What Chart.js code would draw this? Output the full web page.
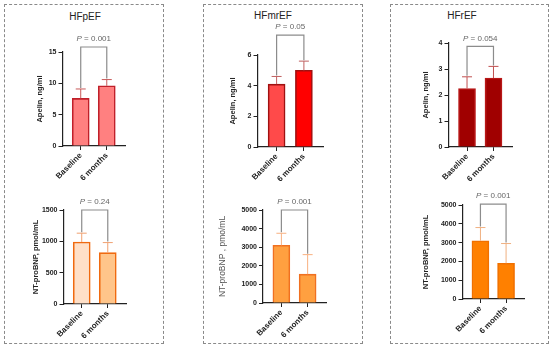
<!DOCTYPE html>
<html>
<head>
<meta charset="utf-8">
<script src="https://cdn.jsdelivr.net/npm/chart.js@4.4.1/dist/chart.umd.min.js"></script>
<style>
  body { margin: 0; background: #fff; width: 550px; height: 348px; position: relative; overflow: hidden;
         font-family: "Liberation Sans", Arial, sans-serif; }
  .box { position: absolute; border: 1px dashed #8a8a8a; box-sizing: border-box; }
  .ttl { position: absolute; font-size: 10px; color: #222; transform: translate(-50%, -50%); white-space: nowrap; }
  canvas { position: absolute; }
</style>
</head>
<body>
<div class="box" style="left:4px;top:4px;width:160px;height:340px"></div>
<div class="box" style="left:203px;top:4px;width:160px;height:340px"></div>
<div class="box" style="left:390px;top:4px;width:159px;height:340px"></div>
<div class="ttl" id="t0" style="left:85px;top:16px"></div>
<div class="ttl" id="t1" style="left:273px;top:15px"></div>
<div class="ttl" id="t2" style="left:462px;top:15px"></div>
<canvas id="c0"></canvas><canvas id="c1"></canvas><canvas id="c2"></canvas>
<canvas id="c3"></canvas><canvas id="c4"></canvas><canvas id="c5"></canvas>
<script>
const groups = ["Baseline", "6 months"];
const cohorts = ["HFpEF", "HFmrEF", "HFrEF"];

const apelinMean = [[7.6, 9.6], [4.1, 5.0], [2.25, 2.65]];
const apelinErr = [[1.5, 1.0], [0.5, 0.6], [0.45, 0.45]];
const apelinP = ["0.001", "0.05", "0.054"];
const apelinMax = [15, 6, 4];
const apelinStep = [5, 2, 1];
const apelinBracket = [15.8, 7.3, 3.87];

const bnpMean = [[990, 820], [3100, 1550], [3100, 1900]];
const bnpErr = [[140, 160], [650, 1050], [700, 1050]];
const bnpP = ["0.24", "0.001", "0.001"];
const bnpMax = [1500, 5000, 5000];
const bnpStep = [500, 1000, 1000];
const bnpBracket = [1500, 5000, 5050];

const FAM = '"Liberation Sans", Arial, sans-serif';
Chart.defaults.font.family = FAM;

cohorts.forEach((c, i) => { document.getElementById("t" + i).textContent = c; });

// error bars, significance bracket and P label
const marks = {
  id: "marks",
  afterDatasetsDraw(chart, args, o) {
    const { ctx, scales: { x, y } } = chart;
    ctx.save();
    ctx.strokeStyle = o.errColor;
    ctx.lineWidth = 1;
    o.mean.forEach((m, i) => {
      const px = x.getPixelForValue(i);
      const y0 = y.getPixelForValue(m);
      const y1 = y.getPixelForValue(m + o.err[i]);
      ctx.beginPath();
      ctx.moveTo(px, y0); ctx.lineTo(px, y1);
      ctx.moveTo(px - 5, y1); ctx.lineTo(px + 5, y1);
      ctx.stroke();
    });
    const xa = x.getPixelForValue(0), xb = x.getPixelForValue(1);
    const yb = y.getPixelForValue(o.bracket);
    ctx.strokeStyle = "#8c8c8c";
    ctx.lineWidth = 1.2;
    ctx.beginPath();
    ctx.moveTo(xa, y.getPixelForValue(o.mean[0] + o.err[0]) - 1);
    ctx.lineTo(xa, yb); ctx.lineTo(xb, yb);
    ctx.lineTo(xb, y.getPixelForValue(o.mean[1] + o.err[1]) - 1);
    ctx.stroke();

    const fi = "italic 8px " + FAM, fn = "8px " + FAM;
    const rest = " = " + o.p;
    ctx.font = fi; const w1 = ctx.measureText("P").width;
    ctx.font = fn; const w2 = ctx.measureText(rest).width;
    let tx = (xa + xb) / 2 - (w1 + w2) / 2;
    const ty = yb - 8;
    ctx.fillStyle = "#666";
    ctx.textBaseline = "middle";
    ctx.textAlign = "left";
    ctx.font = fi; ctx.fillText("P", tx, ty);
    ctx.font = fn; ctx.fillText(rest, tx + w1, ty);
    ctx.restore();
  }
};

// chart area boxes [left, right, top, bottom] in page pixels
const panels = [
  { area: [62, 125, 52, 146], yw: 27.5, padT: 36, label: "Apelin, ng/ml", bold: true,
    fill: ["#ff8080", "#ff8080"], border: "#c0202a", err: "#c85a5a" },
  { area: [257, 323, 55, 147], yw: 29.5, padT: 36, label: "Apelin, ng/ml", bold: true,
    fill: ["#ff4a4a", "#ff0000"], border: "#a01010", err: "#c06060" },
  { area: [448, 512, 43, 147], yw: 27.5, padT: 20, label: "Apelin, ng/ml", bold: true,
    fill: ["#a00000", "#a00000"], border: "#b81818", err: "#c05050" },
  { area: [63, 126, 210, 304], yw: 32.5, padT: 24, label: "NT-proBNP, pmol/mL", bold: true,
    fill: ["#ffe0c8", "#ffc58a"], border: "#f06a10", err: "#f0a070" },
  { area: [263, 326, 210, 303], yw: 45, padT: 24, label: "NT-proBNP , pmo/mL", bold: false,
    fill: ["#ffa040", "#ffa040"], border: "#f07020", err: "#f8b080" },
  { area: [462, 524, 205, 299], yw: 41.5, padT: 24, label: "NT-proBNP, pmol/mL", bold: true,
    fill: ["#ff8000", "#ff8000"], border: "#f07000", err: "#f0b080" }
];

const XH = 38, PADR = 4;

panels.forEach((pn, k) => {
  const j = k % 3;
  const apelin = k < 3;
  const mean = apelin ? apelinMean[j] : bnpMean[j];
  const err = apelin ? apelinErr[j] : bnpErr[j];
  const [l, r, t, b] = pn.area;
  const cv = document.getElementById("c" + k);
  const left = l - pn.yw, top = t - pn.padT;
  cv.width = r - left + PADR;
  cv.height = b + XH - top;
  cv.style.left = left + "px";
  cv.style.top = top + "px";

  new Chart(cv, {
    type: "bar",
    data: {
      datasets: [{
        data: mean.map((v, i) => ({ x: i, y: v })),
        backgroundColor: pn.fill,
        borderColor: pn.border,
        borderWidth: 1.6,
        barThickness: 17
      }]
    },
    options: {
      responsive: false,
      animation: false,
      layout: { padding: { left: 0, right: PADR, top: pn.padT, bottom: 0 } },
      scales: {
        x: {
          type: "linear", min: -0.7, max: 1.7, offset: false,
          afterBuildTicks: s => { s.ticks = [{ value: 0 }, { value: 1 }]; },
          afterFit: s => { s.height = XH; },
          grid: { offset: false, drawOnChartArea: false, tickLength: 4, color: "#222" },
          border: { color: "#222", width: 1.2 },
          ticks: { callback: v => groups[v], autoSkip: false, minRotation: 45, maxRotation: 45,
                   padding: 1, color: "#222", font: { size: 8, weight: "bold" } }
        },
        y: {
          min: 0, max: apelin ? apelinMax[j] : bnpMax[j],
          afterFit: s => { s.width = pn.yw; },
          grid: { drawOnChartArea: false, tickLength: 4, color: "#222" },
          border: { color: "#222", width: 1.2 },
          ticks: { stepSize: apelin ? apelinStep[j] : bnpStep[j], padding: 2, color: "#222",
                   callback: v => String(v), font: { size: 7, weight: "bold" } },
          title: { display: true, text: pn.label, padding: 0,
                   color: pn.bold ? "#222" : "#555",
                   font: pn.bold ? { size: 7.5, weight: "bold" } : { size: 8.5 } }
        }
      },
      plugins: {
        legend: { display: false },
        tooltip: { enabled: false },
        marks: { mean: mean, err: err, errColor: pn.err,
                 bracket: apelin ? apelinBracket[j] : bnpBracket[j],
                 p: apelin ? apelinP[j] : bnpP[j] }
      }
    },
    plugins: [marks]
  });
});
</script>
</body>
</html>
